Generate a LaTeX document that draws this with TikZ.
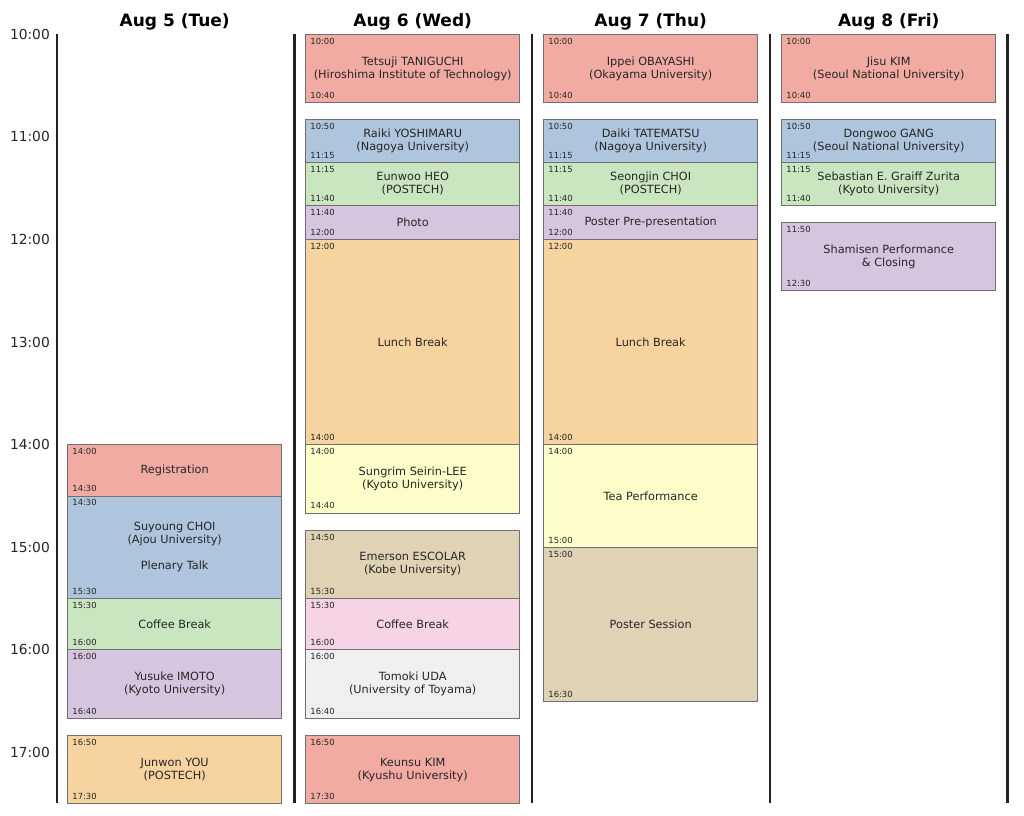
\documentclass[tikz,border=0pt]{standalone}
\usepackage{fontspec}
\setmainfont{DejaVu Sans}
\usetikzlibrary{calc}
\definecolor{cR}{HTML}{F2ABA3}
\definecolor{cB}{HTML}{AEC5DD}
\definecolor{cG}{HTML}{C9E6C1}
\definecolor{cP}{HTML}{D7C5E0}
\definecolor{cO}{HTML}{F7D3A0}
\definecolor{cY}{HTML}{FEFCC8}
\definecolor{cBr}{HTML}{E0D2B5}
\definecolor{cPk}{HTML}{F6D3E5}
\definecolor{cGy}{HTML}{EFEFEF}
\definecolor{boxgray}{HTML}{707070}
\definecolor{txt}{HTML}{262626}
\definecolor{axline}{HTML}{222222}
\begin{document}
\begin{tikzpicture}[x=1pt,y=-1pt,
  evbox/.style={draw=boxgray, line width=0.9pt, rectangle, inner sep=0pt,
    minimum width=214pt, align=center, text=txt,
    font=\fontsize{11.3}{13}\selectfont},
  tlabel/.style={font=\fontsize{8.4}{9}\selectfont, text=txt, inner sep=0pt, anchor=base west},
  axlabel/.style={font=\fontsize{13.8}{15}\selectfont, text=txt, inner sep=0pt, anchor=base east},
  dayhead/.style={font=\fontsize{17}{19}\selectfont\bfseries, text=black, inner sep=0pt, anchor=base},
  dayline/.style={draw=axline, line width=2.3pt}]
\useasboundingbox[fill=white] (0,0) rectangle (1024,815);

% day separator lines
\foreach \i in {0,...,4}{
  \pgfmathsetmacro\lx{57+237.6*\i}
  \coordinate (lt\i) at (\lx,34.3);
  \coordinate (lb\i) at (\lx,803.3);
  \draw[dayline] (lt\i) -- (lb\i);
}

% headers
\foreach \i/\d in {0/{Aug 5 (Tue)},1/{Aug 6 (Wed)},2/{Aug 7 (Thu)},3/{Aug 8 (Fri)}}{
  \pgfmathsetmacro\hx{174.7+238*\i}
  \node[dayhead] (hd\i) at (\hx,26) {\d};
}

% time axis
\foreach \h in {10,...,17}{
  \pgfmathsetmacro\hy{34.3+102.6*(\h-10)+5}
  \node[axlabel] (ax\h) at (50,\hy) {\h:00};
}

% events: column / start min / end min / start label / end label / colour / text
\foreach \c/\s/\e/\sl/\el/\col/\txt in {
  0/240/270/14:00/14:30/cR/{Registration},
  0/270/330/14:30/15:30/cB/{Suyoung CHOI\\(Ajou University)\\\mbox{}\\Plenary Talk},
  0/330/360/15:30/16:00/cG/{Coffee Break},
  0/360/400/16:00/16:40/cP/{Yusuke IMOTO\\(Kyoto University)},
  0/410/450/16:50/17:30/cO/{Junwon YOU\\(POSTECH)},
  1/0/40/10:00/10:40/cR/{Tetsuji TANIGUCHI\\(Hiroshima Institute of Technology)},
  1/50/75/10:50/11:15/cB/{Raiki YOSHIMARU\\(Nagoya University)},
  1/75/100/11:15/11:40/cG/{Eunwoo HEO\\(POSTECH)},
  1/100/120/11:40/12:00/cP/{Photo},
  1/120/240/12:00/14:00/cO/{Lunch Break},
  1/240/280/14:00/14:40/cY/{Sungrim Seirin-LEE\\(Kyoto University)},
  1/290/330/14:50/15:30/cBr/{Emerson ESCOLAR\\(Kobe University)},
  1/330/360/15:30/16:00/cPk/{Coffee Break},
  1/360/400/16:00/16:40/cGy/{Tomoki UDA\\(University of Toyama)},
  1/410/450/16:50/17:30/cR/{Keunsu KIM\\(Kyushu University)},
  2/0/40/10:00/10:40/cR/{Ippei OBAYASHI\\(Okayama University)},
  2/50/75/10:50/11:15/cB/{Daiki TATEMATSU\\(Nagoya University)},
  2/75/100/11:15/11:40/cG/{Seongjin CHOI\\(POSTECH)},
  2/100/120/11:40/12:00/cP/{Poster Pre-presentation},
  2/120/240/12:00/14:00/cO/{Lunch Break},
  2/240/300/14:00/15:00/cY/{Tea Performance},
  2/300/390/15:00/16:30/cBr/{Poster Session},
  3/0/40/10:00/10:40/cR/{Jisu KIM\\(Seoul National University)},
  3/50/75/10:50/11:15/cB/{Dongwoo GANG\\(Seoul National University)},
  3/75/100/11:15/11:40/cG/{Sebastian E. Graiff Zurita\\(Kyoto University)},
  3/110/150/11:50/12:30/cP/{Shamisen Performance\\\& Closing}}{
  \pgfmathsetmacro\ys{34.3+1.71*\s}
  \pgfmathsetmacro\ye{34.3+1.71*\e}
  \pgfmathsetmacro\yc{(\ys+\ye)/2}
  \pgfmathsetmacro\hh{\ye-\ys}
  \pgfmathsetmacro\xc{67.7+107+238*\c}
  \node[evbox, fill=\col, minimum height=\hh pt] (ev-\c-\s) at (\xc,\yc) {\txt};
  \node[tlabel] (st-\c-\s) at ($(ev-\c-\s.north west)+(5,10.3)$) {\sl};
  \node[tlabel] (et-\c-\s) at ($(ev-\c-\s.south west)+(5,-4.6)$) {\el};
}
\end{tikzpicture}
\end{document}
